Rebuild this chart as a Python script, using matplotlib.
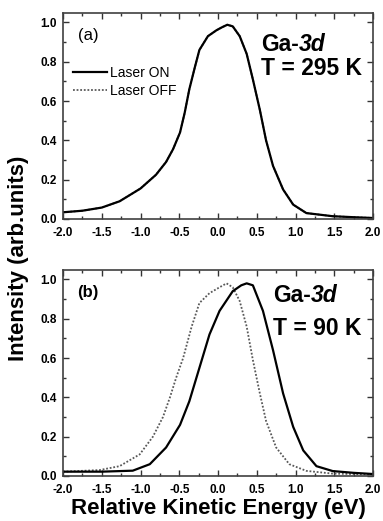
import matplotlib
matplotlib.use("Agg")
import matplotlib.pyplot as plt
from matplotlib.ticker import MultipleLocator

plt.rcParams['font.family'] = ['Liberation Sans', 'DejaVu Sans']

# (a) T = 295 K : laser on / off curves lie on top of each other
x_a = [-2.0, -1.75, -1.5, -1.27, -1.0, -0.8, -0.67, -0.58, -0.49, -0.43, -0.37,
       -0.3, -0.24, -0.13, -0.02, 0.05, 0.12, 0.19, 0.28, 0.37, 0.45, 0.54,
       0.62, 0.71, 0.84, 0.97, 1.14, 1.48, 1.75, 2.0]
on_a = [0.034, 0.042, 0.058, 0.09, 0.155, 0.225, 0.29, 0.355, 0.44, 0.54, 0.66,
        0.77, 0.86, 0.93, 0.96, 0.975, 0.988, 0.98, 0.93, 0.84, 0.71, 0.555,
        0.40, 0.27, 0.15, 0.073, 0.03, 0.014, 0.009, 0.005]
off_a = on_a

# (b) T = 90 K
x_b_on = [-2.0, -1.5, -1.1, -0.88, -0.67, -0.49, -0.37, -0.24, -0.11, 0.02, 0.19,
          0.3, 0.37, 0.45, 0.58, 0.71, 0.84, 0.97, 1.1, 1.27, 1.48, 1.75, 2.0]
on_b = [0.022, 0.022, 0.027, 0.06, 0.145, 0.26, 0.38, 0.55, 0.72, 0.84, 0.94,
        0.97, 0.98, 0.97, 0.84, 0.64, 0.42, 0.25, 0.13, 0.05, 0.025, 0.016, 0.01]
x_b_off = [-2.0, -1.53, -1.27, -1.01, -0.84, -0.71, -0.62, -0.54, -0.45, -0.34,
           -0.24, -0.11, 0.02, 0.11, 0.19, 0.28, 0.37, 0.45, 0.54, 0.62, 0.75,
           0.92, 1.14, 1.48, 2.0]
off_b = [0.022, 0.03, 0.05, 0.11, 0.2, 0.3, 0.4, 0.5, 0.6, 0.76,
         0.88, 0.93, 0.96, 0.98, 0.96, 0.89, 0.76, 0.59, 0.42, 0.28, 0.145,
         0.06, 0.026, 0.012, 0.008]

xticks = [-2.0, -1.5, -1.0, -0.5, 0.0, 0.5, 1.0, 1.5, 2.0]
yticks = [0.0, 0.2, 0.4, 0.6, 0.8, 1.0]

fig = plt.figure(figsize=(3.83, 5.21), dpi=100)
ax1 = fig.add_axes([0.1645, 0.5797, 0.8094, 0.3954])
ax2 = fig.add_axes([0.1645, 0.0864, 0.8094, 0.3954])

dot = dict(color='0.35', lw=1.3, ls=(0, (1, 1)))
sol = dict(color='black', lw=1.6)

ax1.plot(x_a, off_a, label='Laser OFF', **dot)
ax1.plot(x_a, on_a, label='Laser ON', **sol)
ax2.plot(x_b_off, off_b, **dot)
ax2.plot(x_b_on, on_b, **sol)

for ax in (ax1, ax2):
    ax.set_xlim(-2.0, 2.0)
    ax.set_ylim(0.0, 1.048)
    ax.set_xticks(xticks)
    ax.set_xticklabels(['%.1f' % v for v in xticks])
    ax.set_yticks(yticks)
    ax.set_yticklabels(['%.1f' % v for v in yticks])
    ax.xaxis.set_minor_locator(MultipleLocator(0.25))
    ax.yaxis.set_minor_locator(MultipleLocator(0.1))
    ax.tick_params(which='both', direction='in', top=True, right=True,
                   width=1.0, color='0.2')
    ax.tick_params(which='major', length=4)
    ax.tick_params(which='minor', length=2.5)
    ax.tick_params(axis='x', pad=6)
    ax.tick_params(axis='y', pad=4.5)
    for lab in ax.get_xticklabels() + ax.get_yticklabels():
        lab.set_fontsize(8.5)
        lab.set_fontweight('bold')
    for s in ax.spines.values():
        s.set_linewidth(1.2)
        s.set_color('0.25')

# panel (a) texts
ax1.text(0.048, 0.87, '(a)', transform=ax1.transAxes, fontsize=12, va='baseline')
t1 = ax1.text(0.64, 0.816, 'Ga-', transform=ax1.transAxes, fontsize=16.5,
              fontweight='bold', va='baseline')
ax1.annotate('3d', xy=(1, 0), xycoords=t1, fontsize=16.5, fontweight='bold',
             fontstyle='italic', va='bottom', ha='left')
ax1.text(0.64, 0.699, 'T = 295 K', transform=ax1.transAxes, fontsize=16.5,
         fontweight='bold', va='baseline')

h, l = ax1.get_legend_handles_labels()
ax1.legend(h[::-1], l[::-1], loc='upper left', bbox_to_anchor=(0.032, 0.745),
           frameon=False, fontsize=10, handlelength=2.45, handletextpad=0.2,
           labelspacing=0.3, borderpad=0, borderaxespad=0)

# panel (b) texts
ax2.text(0.045, 0.87, '(b)', transform=ax2.transAxes, fontsize=12,
         fontweight='bold', va='baseline')
t2 = ax2.text(0.677, 0.845, 'Ga-', transform=ax2.transAxes, fontsize=16.5,
              fontweight='bold', va='baseline')
ax2.annotate('3d', xy=(1, 0), xycoords=t2, fontsize=16.5, fontweight='bold',
             fontstyle='italic', va='bottom', ha='left')
ax2.text(0.677, 0.684, 'T = 90 K', transform=ax2.transAxes, fontsize=16.5,
         fontweight='bold', va='baseline')

ax2.set_xlabel('Relative Kinetic Energy (eV)', fontsize=16, fontweight='bold')
ax2.xaxis.set_label_coords(0.5, -0.105)
fig.text(0.047, 0.505, 'Intensity (arb.units)', rotation=90, fontsize=16,
         fontweight='bold', ha='center', va='center')

fig.savefig('out.png', dpi=100)
